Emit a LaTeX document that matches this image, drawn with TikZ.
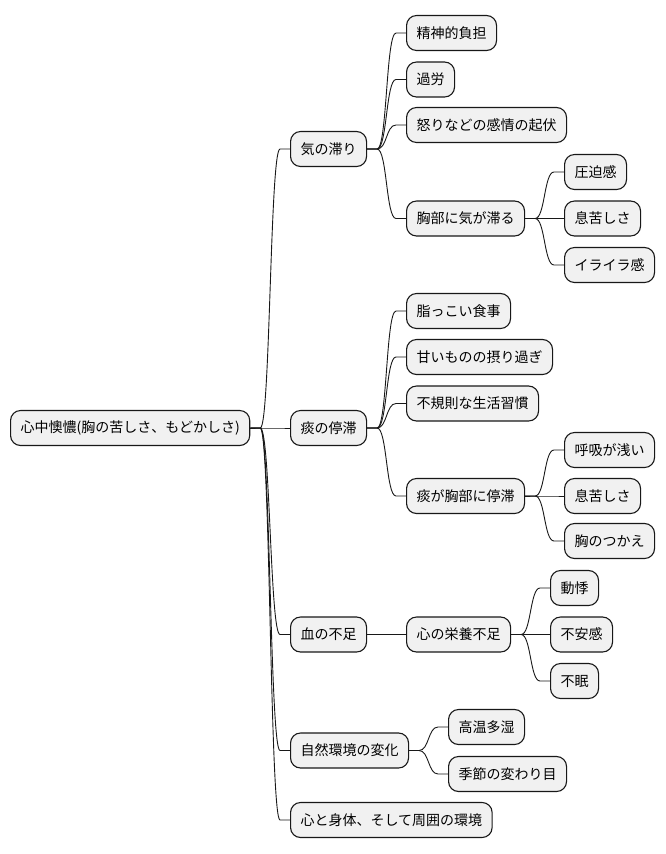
\documentclass[tikz,border=0pt]{standalone}
\usepackage{fontspec}
\setmainfont{Noto Sans CJK JP}
\usetikzlibrary{calc}
\definecolor{nodefill}{HTML}{F1F1F1}
\definecolor{nodeline}{HTML}{181818}
\tikzset{
  mm/.style={draw=nodeline, fill=nodefill, line width=1.1pt, rounded corners=10pt,
    font=\fontsize{14}{16}\selectfont, inner xsep=10pt, inner ysep=0pt,
    minimum height=35pt, anchor=west},
  conn/.style={line width=0.9pt, draw=nodeline,
    to path={-- ++(10,0) .. controls +(10,0) and +(-10,0) .. ($(\tikztotarget)+(-10,0)$) -- (\tikztotarget)}}
}
\begin{document}
\begin{tikzpicture}[x=1pt,y=-1pt]
\useasboundingbox (0,0) rectangle (665,854);
% root
\node[mm] (root) at (10,428) {心中懊憹(胸の苦しさ、もどかしさ)};
% level 1
\node[mm] (qi) at (290,149) {気の滞り};
\node[mm] (tan) at (290,428) {痰の停滞};
\node[mm] (blood) at (290,634.5) {血の不足};
\node[mm] (nature) at (290,750.5) {自然環境の変化};
\node[mm] (heart) at (290,820) {心と身体、そして周囲の環境};
% qi children
\node[mm] (q1) at (406,33) {精神的負担};
\node[mm] (q2) at (406,79.5) {過労};
\node[mm] (q3) at (406,125) {怒りなどの感情の起伏};
\node[mm] (q4) at (406,218.5) {胸部に気が滞る};
\node[mm] (q41) at (564,172) {圧迫感};
\node[mm] (q42) at (564,218.5) {息苦しさ};
\node[mm] (q43) at (564,265) {イライラ感};
% tan children
\node[mm] (t1) at (406,311) {脂っこい食事};
\node[mm] (t2) at (406,357) {甘いものの摂り過ぎ};
\node[mm] (t3) at (406,403.5) {不規則な生活習慣};
\node[mm] (t4) at (406,496) {痰が胸部に停滞};
\node[mm] (t41) at (564,450) {呼吸が浅い};
\node[mm] (t42) at (564,496) {息苦しさ};
\node[mm] (t43) at (564,541) {胸のつかえ};
% blood children
\node[mm] (b1) at (406,634.5) {心の栄養不足};
\node[mm] (b11) at (550,588) {動悸};
\node[mm] (b12) at (550,634.5) {不安感};
\node[mm] (b13) at (550,681) {不眠};
% nature children
\node[mm] (n1) at (448,727) {高温多湿};
\node[mm] (n2) at (448,774) {季節の変わり目};
% connectors
\foreach \c in {qi,tan,blood,nature,heart} \draw[conn] (root.east) to (\c.west);
\foreach \c in {q1,q2,q3,q4} \draw[conn] (qi.east) to (\c.west);
\foreach \c in {q41,q42,q43} \draw[conn] (q4.east) to (\c.west);
\foreach \c in {t1,t2,t3,t4} \draw[conn] (tan.east) to (\c.west);
\foreach \c in {t41,t42,t43} \draw[conn] (t4.east) to (\c.west);
\draw[conn] (blood.east) to (b1.west);
\foreach \c in {b11,b12,b13} \draw[conn] (b1.east) to (\c.west);
\foreach \c in {n1,n2} \draw[conn] (nature.east) to (\c.west);
\end{tikzpicture}
\end{document}
